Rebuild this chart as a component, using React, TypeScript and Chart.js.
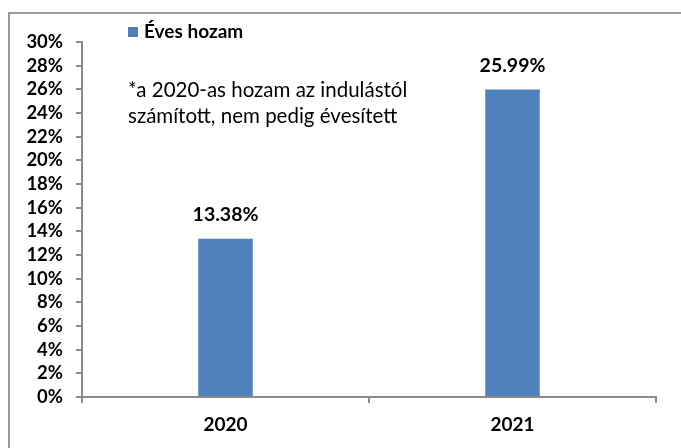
import React, { useEffect, useRef } from "react";
import { Chart, registerables } from "chart.js";

Chart.register(...registerables);

const categories = ["2020", "2021"];
const returns = [13.38, 25.99];
const seriesName = "Éves hozam";
const noteLines = ["*a 2020-as hozam az indulástól", "számított, nem pedig évesített"];
const yMin = 0;
const yMax = 30;
const yStep = 2;

const FONT = "Lato, 'Open Sans', sans-serif";
const BAR_COLOR = "#4F81BD";
const AXIS_COLOR = "#8a8a8a";

const decorPlugin = {
  id: "decor",
  afterDraw(chart: any) {
    const ctx = chart.ctx;
    ctx.save();
    // outer frame (top and left visible)
    ctx.strokeStyle = "#9a9a9a";
    ctx.lineWidth = 2;
    ctx.beginPath();
    ctx.moveTo(9, chart.height);
    ctx.lineTo(9, 13);
    ctx.lineTo(chart.width, 13);
    ctx.stroke();

    // legend
    const ds = chart.data.datasets[0];
    ctx.fillStyle = ds.backgroundColor;
    ctx.fillRect(128, 27, 10, 10);
    ctx.fillStyle = "#000";
    ctx.font = `bold 19px ${FONT}`;
    ctx.textBaseline = "middle";
    ctx.textAlign = "left";
    ctx.fillText(ds.label, 144, 32);

    // note
    ctx.font = `20.5px ${FONT}`;
    noteLines.forEach((line, i) => {
      ctx.fillText(line, 128, 90 + i * 26);
    });

    // data labels
    const meta = chart.getDatasetMeta(0);
    ctx.font = `bold 19.5px ${FONT}`;
    ctx.textAlign = "center";
    meta.data.forEach((bar: any, i: number) => {
      const v = ds.data[i] as number;
      ctx.fillText(v.toFixed(2) + "%", bar.x, bar.y - 24);
    });
    ctx.restore();
  },
};

export default function App() {
  const ref = useRef<HTMLCanvasElement>(null);
  useEffect(() => {
    if (!ref.current) return;
    const chart = new Chart(ref.current, {
      type: "bar",
      data: {
        labels: categories,
        datasets: [
          {
            label: seriesName,
            data: returns,
            backgroundColor: BAR_COLOR,
            barPercentage: 0.19,
            categoryPercentage: 1,
          },
        ],
      },
      options: {
        animation: false,
        responsive: false,
        layout: { padding: { top: 42, right: 25, left: 0, bottom: 0 } },
        plugins: { legend: { display: false }, tooltip: { enabled: false } },
        scales: {
          x: {
            grid: {
              drawOnChartArea: false,
              tickLength: 6,
              color: AXIS_COLOR,
              lineWidth: 2,
            },
            border: { color: AXIS_COLOR, width: 2 },
            ticks: {
              color: "#000",
              font: { family: FONT, size: 19, weight: "bold" },
              padding: 10,
            },
            afterFit(scale: any) {
              scale.height = 51;
            },
          },
          y: {
            min: yMin,
            max: yMax,
            grid: {
              drawOnChartArea: false,
              tickLength: 6,
              color: AXIS_COLOR,
              lineWidth: 2,
            },
            border: { color: AXIS_COLOR, width: 2 },
            ticks: {
              stepSize: yStep,
              autoSkip: false,
              color: "#000",
              font: { family: FONT, size: 18.5, weight: "bold" },
              padding: 13,
              callback: (v: any) => v + "%",
            },
            afterFit(scale: any) {
              scale.width = 82;
            },
          },
        },
      },
      plugins: [decorPlugin],
    });
    return () => chart.destroy();
  }, []);
  return (
    <div style={{ position: "fixed", left: 0, top: 0, width: 681, height: 448, background: "#fff" }}>
      <canvas ref={ref} width={681} height={448} style={{ display: "block" }} />
    </div>
  );
}
